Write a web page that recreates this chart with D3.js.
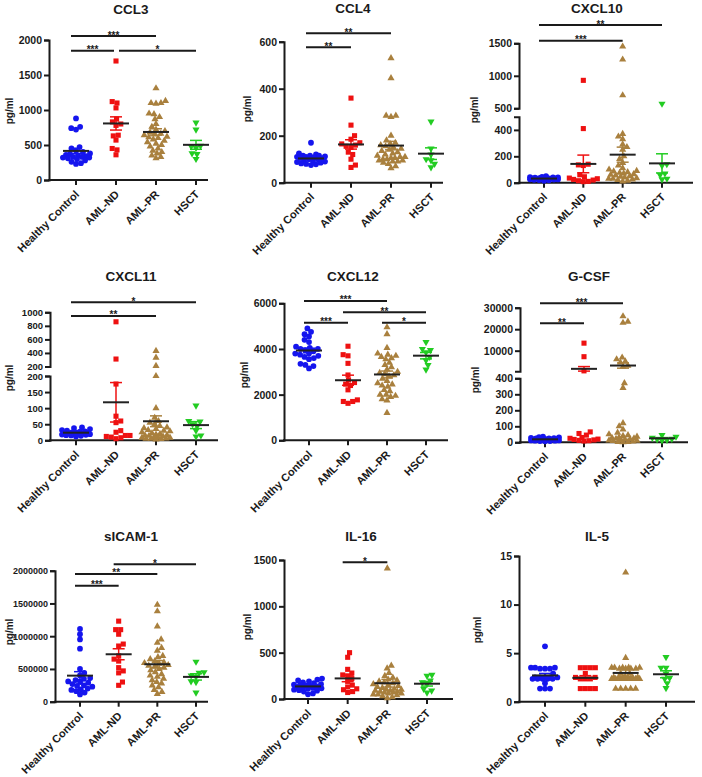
<!DOCTYPE html>
<html><head><meta charset="utf-8">
<script src="https://cdn.jsdelivr.net/npm/d3@7"></script>
<style>
body{margin:0;background:#fff}
svg{display:block;font-family:"Liberation Sans",Arial,sans-serif;font-weight:bold}
</style>
</head><body><svg id="c" width="702" height="777"></svg>
<script>
// ---------------- data ----------------
const groups = ["Healthy Control","AML-ND","AML-PR","HSCT"];
const groupColors = ["#1515ee","#ee1111","#a9803e","#22cc22"];

const ccl3 = [
  [880,760,740,720,470,450,420,400,380,370,360,350,340,330,330,320,320,310,300,280,260,240,230],
  [1700,1120,1100,1030,870,830,800,780,640,630,570,450,430,360],
  [1310,1130,1100,1090,1100,950,940,900,870,800,760,720,700,680,660,650,640,620,610,600,580,560,540,520,500,480,450,420,400,380,350,330,310],
  [820,720,490,480,460,380,370,300]
];
const ccl3Ticks = [0,500,1000,1500,2000];
const ccl3Sig = [[0,2,2057,"***"],[0,1,1848,"***"],[1,3,1848,"*"]];

const ccl4 = [
  [170,125,120,115,115,115,112,110,110,108,105,105,100,100,95,92,90,88,85,82,80,78,75],
  [360,245,200,185,170,165,160,155,150,130,120,100,75,65],
  [530,445,285,285,280,200,180,170,165,160,155,150,145,140,135,130,125,120,115,110,110,105,105,100,100,95,95,90,90,85,80,70,62],
  [260,145,120,100,95,80,65]
];
const ccl4Ticks = [0,200,400,600];
const ccl4Sig = [[0,2,636,"**"],[0,1,576,"**"]];

const cxcl10 = [
  [50,45,42,40,40,38,36,35,35,33,32,30,30,28,28,26,25,24,22,20,18,15],
  [930,410,140,135,130,60,45,35,30,25,20,15,10,8],
  [1450,1250,700,370,350,330,290,270,250,200,180,150,130,110,100,90,85,80,75,70,65,60,55,50,45,40,35,30,30,25,20,15,10],
  [570,140,130,70,60,30,25]
];
const cxcl10TicksLow = [0,200,400];
const cxcl10TicksHigh = [500,1000,1500];
const cxcl10Sig = [[0,3,1781,"**"],[0,2,1540,"***"]];

const cxcl11 = [
  [40,38,35,32,30,28,27,25,25,24,23,22,21,20,20,19,18,17,16,15,14,12],
  [860,310,175,75,60,55,30,25,15,15,12,10,8,5],
  [430,330,210,200,100,70,60,55,50,45,40,38,35,32,30,28,25,22,20,18,16,15,14,12,10,10,8,8,6,5,5,4,3],
  [108,60,58,50,45,30,15,12]
];
const cxcl11TicksLow = [0,50,100,150,200];
const cxcl11TicksHigh = [200,400,600,800,1000];
const cxcl11Sig = [[0,3,1150,"*"],[0,2,946,"**"]];

const cxcl12 = [
  [4900,4750,4650,4550,4400,4300,4000,3800,4100,4050,4000,3950,3900,3800,3750,3700,3650,3600,3550,3350,3300,3250,3150],
  [4120,3750,3700,3370,2860,2640,2530,2460,2400,2210,1770,1700,1700,1620],
  [4950,4650,4050,3800,3750,3700,3650,3600,3550,3400,3300,3200,3100,3000,2950,2900,2850,2800,2700,2600,2500,2450,2400,2350,2200,2150,2000,2000,1950,1900,1800,1750,1200],
  [4300,4000,3950,3850,3650,3500,3300,3100]
];
const cxcl12Ticks = [0,2000,4000,6000];
const cxcl12Sig = [[0,2,6101,"***"],[1,3,5606,"**"],[2,3,5151,"*"],[0,1,5151,"***"]];

const gcsf = [
  [35,32,30,28,26,25,24,22,20,20,18,18,16,15,14,12,12,10,10,8,8,6],
  [13500,7200,600,65,55,45,30,25,20,18,15,12,10,8],
  [26000,23500,23000,6800,6000,5000,4500,3000,2500,370,340,120,100,80,60,50,45,40,35,30,28,25,22,20,18,15,12,10,8,5,3,2,1],
  [45,35,28,22,18,15,12]
];
const gcsfTicksLow = [0,100,200,300,400];
const gcsfTicksHigh = [10000,20000,30000];
const gcsfSig = [[0,2,32030,"***"],[0,1,22730,"**"]];

const sicam1 = [
  [1110000,1030000,950000,810000,500000,440000,400000,360000,350000,330000,310000,300000,290000,270000,250000,240000,230000,200000,190000,180000,160000,140000,110000],
  [1230000,1100000,1100000,1030000,880000,850000,700000,650000,620000,520000,470000,440000,300000,250000],
  [1480000,1380000,1150000,950000,900000,820000,780000,700000,680000,650000,620000,600000,590000,580000,560000,550000,540000,520000,500000,480000,450000,420000,400000,380000,350000,330000,300000,280000,250000,220000,180000,150000,120000],
  [610000,450000,440000,400000,380000,310000,300000,140000]
];
const sicam1Ticks = [0,500000,1000000,1500000,2000000];
const sicam1Sig = [[1,3,2098000,"*"],[0,2,1950000,"**"],[0,1,1771000,"***"]];

const il16 = [
  [220,210,200,190,180,170,160,155,150,145,140,135,130,125,120,115,110,100,95,90,80,60,50],
  [500,450,320,280,260,250,220,190,150,130,110,100,80,70],
  [1410,360,330,280,250,230,210,200,190,180,170,160,150,140,130,120,110,100,100,90,90,80,80,70,70,60,60,50,50,40,30,20,10],
  [260,250,200,180,160,110,90,70]
];
const il16Ticks = [0,500,1000,1500];
const il16Sig = [[1,2,1475,"*"]];

const il5 = [
  [5.7,3.5,3.5,3.5,3.4,3.4,3.4,2.9,2.5,2.5,2.5,2.5,2.5,2.35,2.35,2.35,2.35,2.35,1.9,1.35,1.35,1.35],
  [3.5,3.5,3.5,3.5,2.9,2.5,2.5,2.35,2.35,2.35,1.35,1.35,1.35,1.35],
  [13.3,4.5,3.5,3.5,3.5,3.5,3.5,3.4,3.4,3.4,3.4,2.9,2.9,2.5,2.5,2.5,2.5,2.5,2.5,2.5,2.35,2.35,2.35,2.35,2.35,2.35,2.35,2.35,1.35,1.35,1.35,1.35,1.35],
  [4.6,3.5,3.5,2.9,2.45,2.35,1.9,1.4]
];
const il5Ticks = [0,5,10,15];
const il5Sig = [];

// ---------------- layout (pixels) ----------------
const panels = [
  {title:"CCL3", data:ccl3, sig:ccl3Sig, tx:131, ty:14, ax:49, xEnd:208, cx:[76,196], lx:13, ly:111,
   segs:[{dom:[0,2000], rng:[180,40], ticks:ccl3Ticks}]},
  {title:"CCL4", data:ccl4, sig:ccl4Sig, tx:353, ty:13, ax:284, xEnd:443, cx:[311,431], lx:251, ly:109,
   segs:[{dom:[0,600], rng:[182.7,41.7], ticks:ccl4Ticks}]},
  {title:"CXCL10", data:cxcl10, sig:cxcl10Sig, tx:597, ty:13, ax:519, xEnd:693, cx:[544,662], lx:478, ly:110,
   segs:[{dom:[0,500], rng:[182.7,116.7], ticks:cxcl10TicksLow},{dom:[500,1500], rng:[108.3,43.3], ticks:cxcl10TicksHigh}]},
  {title:"CXCL11", data:cxcl11, sig:cxcl11Sig, tx:131, ty:281, ax:50, xEnd:218, cx:[76,196], lx:13, ly:378, tickFont:9.5,
   segs:[{dom:[0,200], rng:[440.3,376], ticks:cxcl11TicksLow},{dom:[200,1000], rng:[366.5,312.3], ticks:cxcl11TicksHigh}]},
  {title:"CXCL12", data:cxcl12, sig:cxcl12Sig, tx:353, ty:281, ax:284, xEnd:448, cx:[309,426], lx:248, ly:375,
   segs:[{dom:[0,6000], rng:[440.3,303.3], ticks:cxcl12Ticks}]},
  {title:"G-CSF", data:gcsf, sig:gcsfSig, tx:589, ty:281, ax:520, xEnd:688, cx:[545,662], lx:479, ly:380,
   segs:[{dom:[0,400], rng:[442.3,378.3], ticks:gcsfTicksLow},{dom:[400,30000], rng:[371.3,307.7], ticks:gcsfTicksHigh}]},
  {title:"sICAM-1", data:sicam1, sig:sicam1Sig, tx:131, ty:541, ax:55, xEnd:208, cx:[80,196], lx:13, ly:632, tickFont:9,
   segs:[{dom:[0,2000000], rng:[701.7,570.7], ticks:sicam1Ticks}]},
  {title:"IL-16", data:il16, sig:il16Sig, tx:361, ty:541, ax:284, xEnd:453, cx:[308,427], lx:251, ly:627,
   segs:[{dom:[0,1500], rng:[699,560], ticks:il16Ticks}]},
  {title:"IL-5", data:il5, sig:il5Sig, tx:597, ty:541, ax:519, xEnd:695, cx:[545,666], lx:481, ly:630,
   segs:[{dom:[0,15], rng:[701.7,556], ticks:il5Ticks}]}
];

const svg = d3.select("#c");
const ink = "#1a1a1a";
const D = 5.0;      // collision diameter
const MAXW = 14;    // max half-spread of a group

function swarm(ys) {
  const order = ys.map((y,i)=>i).sort((a,b)=>ys[b]-ys[a]);
  const placed = []; const dx = new Array(ys.length);
  order.forEach((i,k) => {
    const y = ys[i];
    const iv = [];
    placed.forEach(p => { const dy = Math.abs(p.y-y); if (dy < D) { const w = Math.sqrt(D*D-dy*dy); iv.push([p.x-w,p.x+w]); } });
    const cands = [0]; iv.forEach(([a,b]) => cands.push(a,b));
    const sgn = k % 2 ? 1 : -1;
    cands.sort((a,b) => (Math.abs(a)-Math.abs(b)) || (sgn*(b-a)));
    let best = null;
    for (const c of cands) {
      if (Math.abs(c) > MAXW) continue;
      if (iv.every(([a,b]) => c <= a+1e-6 || c >= b-1e-6)) { best = c; break; }
    }
    if (best === null) {
      // no free slot inside the allowed width: take the least crowded position
      let bestScore = -1;
      for (let c = -MAXW; c <= MAXW; c += 1) {
        let md = Infinity;
        placed.forEach(p => { md = Math.min(md, Math.hypot(p.x-c, p.y-y)); });
        if (md > bestScore + 1e-6 || (Math.abs(md-bestScore) < 1e-6 && Math.abs(c) < Math.abs(best))) { bestScore = md; best = c; }
      }
    }
    dx[i] = best; placed.push({x:best,y});
  });
  return dx;
}

function symbolPath(gi) {
  if (gi === 0) return d3.symbol(d3.symbolCircle, 26)();
  if (gi === 1) return d3.symbol(d3.symbolSquare, 26)();
  return d3.symbol(d3.symbolTriangle, 22)();
}

panels.forEach(P => {
  const g = svg.append("g");
  const scales = P.segs.map(s => d3.scaleLinear().domain(s.dom).range(s.rng));
  const Y = v => (scales.length > 1 && v > P.segs[0].dom[1]) ? scales[1](v) : scales[0](v);
  const X = d3.scalePoint().domain(groups).range(P.cx);
  const yBase = P.segs[0].rng[0];
  const tf = P.tickFont || 10.5;

  g.append("text").attr("x",P.tx).attr("y",P.ty).attr("text-anchor","middle")
    .attr("font-size",13.5).attr("fill",ink).text(P.title);
  g.append("text").attr("transform",`translate(${P.lx},${P.ly}) rotate(-90)`)
    .attr("text-anchor","middle").attr("font-size",10).attr("fill",ink).text("pg/ml");

  P.segs.forEach((s,i) => {
    const ag = g.append("g").attr("transform",`translate(${P.ax},0)`)
      .call(d3.axisLeft(scales[i]).tickValues(s.ticks).tickSize(5).tickSizeOuter(5).tickPadding(2).tickFormat(d3.format("d")));
    ag.select(".domain").attr("stroke",ink).attr("stroke-width",2);
    ag.selectAll(".tick line").attr("stroke",ink).attr("stroke-width",2);
    ag.selectAll(".tick text").attr("font-size",tf).attr("font-family",null).attr("fill",ink);
  });
  g.append("line").attr("x1",P.ax-1).attr("x2",P.xEnd).attr("y1",yBase).attr("y2",yBase)
    .attr("stroke",ink).attr("stroke-width",2);
  groups.forEach(gr => {
    g.append("line").attr("x1",X(gr)).attr("x2",X(gr)).attr("y1",yBase).attr("y2",yBase+5)
      .attr("stroke",ink).attr("stroke-width",2);
    g.append("text").attr("transform",`translate(${X(gr)+4},${yBase+15}) rotate(-45)`)
      .attr("text-anchor","end").attr("font-size",11).attr("fill",ink).text(gr);
  });

  P.data.forEach((vals,gi) => {
    const ys = vals.map(Y);
    const dx = swarm(ys);
    const cx = X(groups[gi]);
    const sp = symbolPath(gi);
    vals.forEach((v,j) => {
      g.append("path").attr("d",sp)
        .attr("transform",`translate(${cx+dx[j]},${ys[j]})` + (gi===3 ? " rotate(180)" : ""))
        .attr("fill",groupColors[gi]);
    });
  });

  P.data.forEach((vals,gi) => {
    const cx = X(groups[gi]);
    const m = d3.mean(vals);
    const se = d3.deviation(vals)/Math.sqrt(vals.length);
    const c = groupColors[gi];
    const yt = Y(m+se), yb = Y(Math.max(0,m-se));
    g.append("line").attr("x1",cx).attr("x2",cx).attr("y1",yt).attr("y2",yb).attr("stroke",c).attr("stroke-width",1.5);
    [yt,yb].forEach(yy => g.append("line").attr("x1",cx-6).attr("x2",cx+6).attr("y1",yy).attr("y2",yy).attr("stroke",c).attr("stroke-width",1.5));
    g.append("line").attr("x1",cx-13).attr("x2",cx+13).attr("y1",Y(m)).attr("y2",Y(m)).attr("stroke","#222").attr("stroke-width",2);
  });

  P.sig.forEach(([a,b,val,lab]) => {
    let x1 = X(groups[a]) - 5, x2 = X(groups[b]);
    if (P.sig.some(o => o[1] === a && o[2] === val)) x1 = X(groups[a]) + 3;
    if (P.sig.some(o => o[0] === b && o[2] === val)) x2 = X(groups[b]) - 2;
    const yy = Y(val);
    g.append("line").attr("x1",x1).attr("x2",x2).attr("y1",yy).attr("y2",yy).attr("stroke",ink).attr("stroke-width",2);
    g.append("text").attr("x",(x1+x2)/2).attr("y",yy+2.5).attr("text-anchor","middle")
      .attr("font-size",10).attr("fill",ink).text(lab);
  });
});
</script>
</body></html>
